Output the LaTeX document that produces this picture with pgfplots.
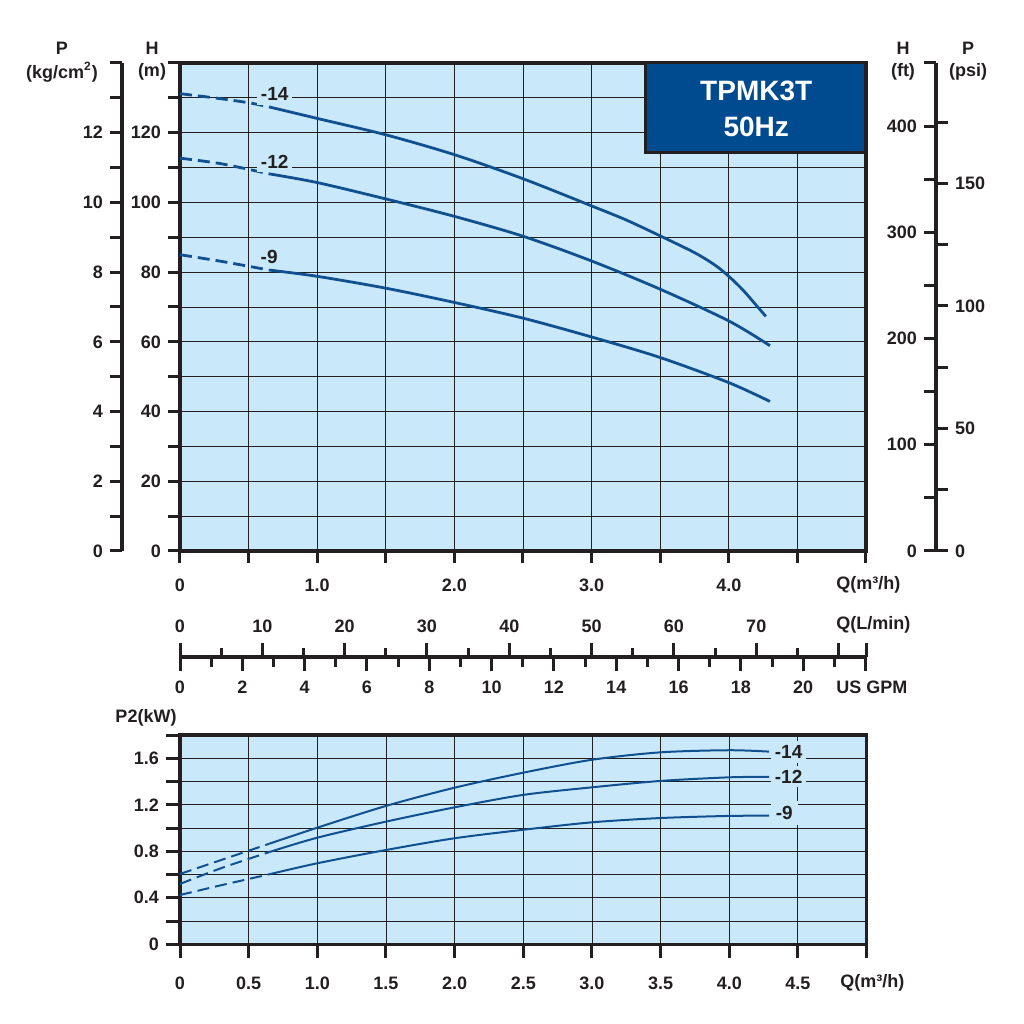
\documentclass[border=0pt]{standalone}
\usepackage{pgfplots}
\pgfplotsset{compat=1.18}
\usepackage{fontspec}
\setmainfont{Liberation Sans}
\definecolor{bgblue}{HTML}{C9E9FA}
\definecolor{curve}{HTML}{11508F}
\definecolor{boxblue}{HTML}{004A8F}
\definecolor{ink}{HTML}{231F20}
\newcommand{\lbl}{\bfseries\fontsize{9}{10}\selectfont}
\pgfplotsset{
  base/.style={
    scale only axis,
    axis line style={line width=1.6pt, ink, -},
    every tick/.style={line width=1.5pt, ink},
    tick align=outside,
    tick label style={font=\lbl, text=ink},
    /pgf/number format/assume math mode=true,
    major tick length=6pt,
    minor tick length=4pt,
  },
  dash/.style={curve, line width=1.4pt, dash pattern=on 6pt off 3pt, smooth},
  sol/.style={curve, line width=1.4pt, smooth},
  dashb/.style={curve, line width=1pt, dash pattern=on 6pt off 3pt, smooth},
  solb/.style={curve, line width=1pt, smooth},
}
\begin{document}
\begin{tikzpicture}
\path[use as bounding box] (0,0) rectangle (512pt,512pt);

% ---------------- top chart: H (m) ----------------
\begin{axis}[base,
  at={(90pt,236.5pt)}, anchor=south west,
  width=343pt, height=244pt,
  xmin=0, xmax=5, ymin=0, ymax=140,
  axis background/.style={fill=bgblue},
  tick pos=left,
  xtick={0,0.5,1,1.5,2,2.5,3,3.5,4,4.5,5},
  xticklabels={0,,1.0,,2.0,,3.0,,4.0,,},
  xticklabel style={yshift=-4.5pt},
  ytick={0,10,20,30,40,50,60,70,80,90,100,110,120,130,140},
  yticklabels={0,,20,,40,,60,,80,,100,,120,,},
  grid=major, major grid style={line width=0.45pt, ink},
  clip=false,
]
\addplot[dash] coordinates {(0,131.2)(0.25,130.0)(0.5,128.6)(0.65,127.4)};
\addplot[sol] coordinates {(0.65,127.4)(1.0,124.1)(1.5,119.4)(2.0,113.7)(2.5,106.8)(3.0,99.0)(3.25,95.0)(3.5,90.4)(3.75,85.6)(3.9,82.0)(4.0,78.8)(4.1,75.0)(4.2,70.5)(4.27,67.3)};
\addplot[dash] coordinates {(0,112.7)(0.3,111.1)(0.65,108.2)};
\addplot[sol] coordinates {(0.65,108.2)(1.0,105.7)(1.5,101.0)(2.0,96.0)(2.5,90.3)(3.0,83.2)(3.5,75.1)(4.0,66.0)(4.3,58.9)};
\addplot[dash] coordinates {(0,85.0)(0.3,83.1)(0.65,80.6)};
\addplot[sol] coordinates {(0.65,80.6)(1.0,78.8)(1.5,75.4)(2.0,71.3)(2.5,66.8)(3.0,61.4)(3.5,55.5)(4.0,48.3)(4.3,42.9)};
\node[fill=bgblue, inner sep=2pt, font=\bfseries\fontsize{9.5}{10}\selectfont, text=ink] at (axis cs:0.69,131) {-14};
\node[fill=bgblue, inner sep=2pt, font=\bfseries\fontsize{9.5}{10}\selectfont, text=ink] at (axis cs:0.69,111.7) {-12};
\node[fill=bgblue, inner sep=1pt, font=\bfseries\fontsize{9.5}{10}\selectfont, text=ink] at (axis cs:0.65,84.3) {-9};
\draw[line width=1.5pt, ink, fill=boxblue] (rel axis cs:0.678,0.8176) rectangle (rel axis cs:1,1);
\node[text=white, font=\bfseries\fontsize{14}{18}\selectfont, align=center] at (rel axis cs:0.84,0.905) {TPMK3T\\50Hz};
\end{axis}

% ---------------- left P (kg/cm2) scale ----------------
\begin{axis}[base,
  at={(61pt,236.5pt)}, anchor=south west,
  width=1pt, height=244pt,
  xmin=0, xmax=1, ymin=0, ymax=14,
  hide x axis, axis y line=left, axis line style={-}, tick align=outside,
  ytick={0,1,2,3,4,5,6,7,8,9,10,11,12,13,14},
  yticklabels={0,,2,,4,,6,,8,,10,,12,,},
]
\end{axis}

% ---------------- right H (ft) scale ----------------
\begin{axis}[base,
  at={(468pt,236.5pt)}, anchor=south west,
  width=1pt, height=244pt,
  xmin=0, xmax=1, ymin=0, ymax=459.318,
  hide x axis, axis y line=left, axis line style={-}, tick align=outside,
  ytick={0,50,100,150,200,250,300,350,400,459.318},
  yticklabels={0,,100,,200,,300,,400,},
]
\end{axis}

% ---------------- right P (psi) scale ----------------
\begin{axis}[base,
  at={(468pt,236.5pt)}, anchor=south east,
  width=1pt, height=244pt,
  xmin=0, xmax=1, ymin=0, ymax=199.128,
  hide x axis, axis y line=right, axis line style={-}, tick align=outside,
  ytick={0,25,50,75,100,125,150,175},
  yticklabels={0,,50,,100,,150,},
]
\end{axis}

% ---------------- Q (L/min) scale ----------------
\begin{axis}[base,
  at={(90pt,183.5pt)}, anchor=north west,
  width=343pt, height=1pt,
  xmin=0, xmax=83.3333, ymin=0, ymax=1,
  hide y axis, axis x line=top, axis line style={-}, tick align=outside,
  major tick length=7pt, minor tick length=4.5pt,
  xtick={0,10,20,30,40,50,60,70,80,83.3333},
  xticklabels={0,10,20,30,40,50,60,70,,},
  xticklabel style={yshift=1.8pt},
  minor xtick={5,15,25,35,45,55,65,75},
]
\end{axis}

% ---------------- US GPM scale ----------------
\begin{axis}[base,
  at={(90pt,183.5pt)}, anchor=south west,
  width=343pt, height=1pt,
  xmin=0, xmax=22.0146, ymin=0, ymax=1,
  hide y axis, axis x line=bottom, axis line style={-}, tick align=outside,
  major tick length=7pt, minor tick length=5pt,
  xtick={0,2,4,6,8,10,12,14,16,18,20,22},
  xticklabels={0,2,4,6,8,10,12,14,16,18,20,},
  xticklabel style={yshift=-1.5pt},
  minor xtick={1,3,5,7,9,11,13,15,17,19,21},
]
\end{axis}

% ---------------- bottom chart: P2 (kW) ----------------
\begin{axis}[base,
  at={(90pt,39.85pt)}, anchor=south west,
  width=343.3pt, height=104.65pt,
  xmin=0, xmax=5, ymin=0, ymax=1.8,
  axis background/.style={fill=bgblue},
  tick pos=left,
  major tick length=7pt,
  xtick={0,0.5,1,1.5,2,2.5,3,3.5,4,4.5,5},
  xticklabels={0,0.5,1.0,1.5,2.0,2.5,3.0,3.5,4.0,4.5,},
  xticklabel style={yshift=-6pt},
  ytick={0,0.2,0.4,0.6,0.8,1.0,1.2,1.4,1.6,1.8},
  yticklabels={0,,0.4,,0.8,,1.2,,1.6,},
  grid=major, major grid style={line width=0.45pt, ink},
  clip=false,
]
\addplot[dashb] coordinates {(0,0.605)(0.3,0.725)(0.65,0.865)};
\addplot[solb] coordinates {(0.65,0.865)(1.0,1.003)(1.5,1.19)(2.0,1.347)(2.5,1.476)(3.0,1.587)(3.5,1.651)(4.0,1.669)(4.29,1.657)};
\addplot[dashb] coordinates {(0,0.519)(0.3,0.655)(0.65,0.793)};
\addplot[solb] coordinates {(0.65,0.793)(1.0,0.917)(1.5,1.055)(2.0,1.178)(2.5,1.285)(3.0,1.35)(3.5,1.405)(4.0,1.436)(4.29,1.44)};
\addplot[dashb] coordinates {(0,0.424)(0.3,0.508)(0.65,0.602)};
\addplot[solb] coordinates {(0.65,0.602)(1.0,0.697)(1.5,0.811)(2.0,0.912)(2.5,0.985)(3.0,1.049)(3.5,1.086)(4.0,1.104)(4.29,1.106)};
\node[fill=bgblue, inner sep=2pt, anchor=west, font=\bfseries\fontsize{9.5}{10}\selectfont, text=ink] at (axis cs:4.3,1.654) {-14};
\node[fill=bgblue, inner sep=2pt, anchor=west, font=\bfseries\fontsize{9.5}{10}\selectfont, text=ink] at (axis cs:4.3,1.44) {-12};
\node[fill=bgblue, inner sep=2.5pt, anchor=west, font=\bfseries\fontsize{9.5}{10}\selectfont, text=ink] at (axis cs:4.3,1.13) {-9};
\end{axis}

% ---------------- titles ----------------
\begin{scope}[every node/.style={font=\lbl, text=ink, inner sep=0pt}]
\node at (31pt,488pt) {P};
\node at (31pt,476pt) {(kg/cm\textsuperscript{2})};
\node at (76pt,488pt) {H};
\node at (76pt,476pt) {(m)};
\node at (451.5pt,488pt) {H};
\node at (451.5pt,476pt) {(ft)};
\node at (484pt,488pt) {P};
\node at (484pt,476pt) {(psi)};
\node[anchor=west] at (418pt,219.5pt) {Q(m³/h)};
\node[anchor=west] at (418pt,199.5pt) {Q(L/min)};
\node[anchor=west] at (418pt,168.5pt) {US GPM};
\node at (73pt,153pt) {P2(kW)};
\node[anchor=west] at (420pt,20.6pt) {Q(m³/h)};
\end{scope}
\end{tikzpicture}
\end{document}
